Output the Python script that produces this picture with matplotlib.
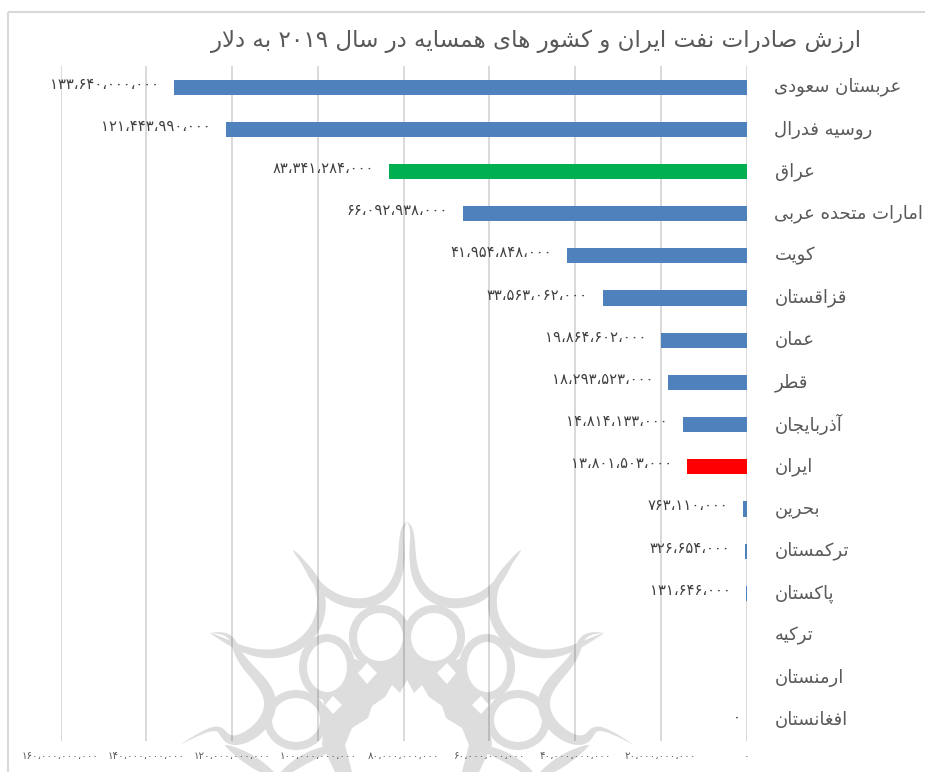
import numpy as np
import matplotlib
matplotlib.use("Agg")
import matplotlib.pyplot as plt
from matplotlib.patches import Polygon, Rectangle, Ellipse

W, H = 925, 772

title = "ارزش صادرات نفت ایران و کشور های همسایه در سال ۲۰۱۹ به دلار"
countries = ["عربستان سعودی", "روسیه فدرال", "عراق", "امارات متحده عربی", "کویت", "قزاقستان",
             "عمان", "قطر", "آذربایجان", "ایران", "بحرین", "ترکمستان", "پاکستان", "ترکیه",
             "ارمنستان", "افغانستان"]
values = [133640000000, 121443990000, 83341284000, 66092938000, 41954848000, 33563062000,
          19864602000, 18293523000, 14814133000, 13801503000, 763110000, 326654000,
          131646000, 0, 0, 0]
has_label = [True] * 13 + [False, False, True]
colors = ["#4F81BD", "#4F81BD", "#00B050"] + ["#4F81BD"] * 6 + ["#FF0000"] + ["#4F81BD"] * 6
ticks = [0, 20e9, 40e9, 60e9, 80e9, 100e9, 120e9, 140e9, 160e9]

# Arabic shaping: matplotlib has no text shaper, so letters map to presentation forms
F = {'ا': (0xFE8D, 0xFE8E), 'آ': (0xFE81, 0xFE82), 'د': (0xFEA9, 0xFEAA), 'ذ': (0xFEAB, 0xFEAC),
     'ر': (0xFEAD, 0xFEAE), 'ز': (0xFEAF, 0xFEB0), 'و': (0xFEED, 0xFEEE),
     'ب': (0xFE8F, 0xFE90, 0xFE91, 0xFE92), 'پ': (0xFB56, 0xFB57, 0xFB58, 0xFB59),
     'ت': (0xFE95, 0xFE96, 0xFE97, 0xFE98), 'ج': (0xFE9D, 0xFE9E, 0xFE9F, 0xFEA0),
     'ح': (0xFEA1, 0xFEA2, 0xFEA3, 0xFEA4), 'س': (0xFEB1, 0xFEB2, 0xFEB3, 0xFEB4),
     'ش': (0xFEB5, 0xFEB6, 0xFEB7, 0xFEB8), 'ص': (0xFEB9, 0xFEBA, 0xFEBB, 0xFEBC),
     'ط': (0xFEC1, 0xFEC2, 0xFEC3, 0xFEC4), 'ع': (0xFEC9, 0xFECA, 0xFECB, 0xFECC),
     'غ': (0xFECD, 0xFECE, 0xFECF, 0xFED0), 'ف': (0xFED1, 0xFED2, 0xFED3, 0xFED4),
     'ق': (0xFED5, 0xFED6, 0xFED7, 0xFED8), 'ک': (0xFB8E, 0xFB8F, 0xFB90, 0xFB91),
     'ل': (0xFEDD, 0xFEDE, 0xFEDF, 0xFEE0), 'م': (0xFEE1, 0xFEE2, 0xFEE3, 0xFEE4),
     'ن': (0xFEE5, 0xFEE6, 0xFEE7, 0xFEE8), 'ه': (0xFEE9, 0xFEEA, 0xFEEB, 0xFEEC),
     'ی': (0xFBFC, 0xFBFD, 0xFBFE, 0xFBFF)}


def shape_word(w):
    out = []
    i = 0
    n = len(w)
    while i < n:
        c = w[i]
        if c not in F:
            out.append(c)
            i += 1
            continue
        prev = w[i - 1] if i else ''
        join_prev = prev in F and len(F[prev]) == 4
        if c == 'ل' and i + 1 < n and w[i + 1] == 'ا':
            out.append(chr(0xFEFC if join_prev else 0xFEFB))
            i += 2
            continue
        nxt = w[i + 1] if i + 1 < n else ''
        join_next = nxt in F and len(F[c]) == 4
        f = F[c]
        k = (3 if join_next else 1) if join_prev else (2 if join_next else 0)
        out.append(chr(f[k]))
        i += 1
    return ''.join(out)


def shape(s):
    vis = []
    for w in reversed(s.split(' ')):
        vis.append(shape_word(w)[::-1] if any(ch in F for ch in w) else w)
    return ' '.join(vis)


def fa_num(v):
    s = f"{int(v):,}".replace(',', '،')
    return s.translate(str.maketrans('0123456789', '۰۱۲۳۴۵۶۷۸۹'))


plt.rcParams['font.family'] = ['DejaVu Sans']
fig = plt.figure(figsize=(W / 100, H / 100), dpi=100, facecolor='white')

# background watermark, in pixel coordinates of the image
bg = fig.add_axes([0, 0, 1, 1], zorder=0)
bg.set_xlim(0, W)
bg.set_ylim(H, 0)
bg.axis('off')
WM = '#dddddd'
cx = 407


def smooth(pts, n=80):
    pts = np.array(pts, float)
    d = np.r_[0, np.cumsum(np.hypot(*np.diff(pts, axis=0).T))]
    t = d / d[-1]
    u = np.linspace(0, 1, n)
    c = np.polyfit(t, pts, min(len(pts) - 1, 6))
    return np.polyval(c[:, 0], u), np.polyval(c[:, 1], u)


def taper(pts, w=9.0):
    for sign in [1, -1]:
        p = [(cx + sign * (a - cx), b) for a, b in pts]
        x, y = smooth(p)
        dx, dy = np.gradient(x), np.gradient(y)
        L = np.hypot(dx, dy)
        u = np.linspace(0, 1, len(x))
        wid = w * np.sin(np.pi * u) ** 0.7 / 2
        nx, ny = -dy / L * wid, dx / L * wid
        poly = np.r_[np.c_[x + nx, y + ny], np.c_[x - nx, y - ny][::-1]]
        bg.add_patch(Polygon(poly, closed=True, fc=WM, ec='none', zorder=3))


def mirrored_poly(pts, fc, zorder):
    for sign in [1, -1]:
        bg.add_patch(Polygon([(cx + sign * (a - cx), b) for a, b in pts], closed=True,
                             fc=fc, ec='none', zorder=zorder))


def ring(c, rx, ry):
    for sign in [1, -1]:
        bg.add_patch(Ellipse((cx + sign * (c[0] - cx), c[1]), 2 * rx, 2 * ry, fc='white', ec=WM,
                             lw=5.8, zorder=2))


mirrored_poly([(407, 650), (370, 665), (345, 655), (322, 690), (325, 715), (322, 745), (335, 772),
               (352, 772), (345, 745), (352, 728), (368, 718), (372, 706), (385, 697),
               (392, 685), (400, 693), (407, 680)], WM, 1)
ring((380, 637), 27, 28)
ring((327, 667), 24, 29)
ring((296, 720), 28, 26)
mirrored_poly([(367, 663), (377, 673), (367, 684), (358, 673)], 'white', 2.5)
mirrored_poly([(333, 696), (342, 705), (333, 714), (325, 705)], 'white', 2.5)
taper([(407, 522), (400, 567), (380, 598), (353, 603), (317, 583), (293, 550)], 10)
taper([(293, 550), (317, 583), (320, 615), (305, 640), (283, 652), (253, 652), (210, 633)], 10)
taper([(210, 633), (237, 650), (257, 677), (270, 703), (263, 723), (237, 740), (180, 745)], 12)
taper([(225, 745), (250, 760), (280, 780)], 11)
taper([(345, 745), (300, 762), (272, 785)], 10)

# chart frame
bg.add_patch(Rectangle((8, 12), W + 20, H + 20, fc='none', ec='#d9d9d9', lw=1.5, zorder=4))

# chart
L, R, T, B = 60.5, 746.5, 66, 741
ax = fig.add_axes([L / W, 1 - B / H, (R - L) / W, (B - T) / H], zorder=1)
ax.patch.set_alpha(0)
y = np.arange(len(countries))
ax.barh(y, values, height=0.36, color=colors, zorder=3)
ax.set_xlim(160e9, 0)
ax.set_ylim(len(countries) - 0.5, -0.5)
ax.set_xticks(ticks)
ax.set_xticklabels([fa_num(t) for t in ticks], fontsize=7.4, color='#595959')
ax.set_yticks(y)
ax.set_yticklabels([])
ax.tick_params(axis='both', length=0, pad=7)
ax.xaxis.grid(True, color='black', alpha=0.15, lw=1.4, zorder=1)
ax.set_axisbelow(True)
for s in ax.spines.values():
    s.set_visible(False)

for i, (c, v, lab) in enumerate(zip(countries, values, has_label)):
    ax.annotate(shape(c), xy=(0, i), xytext=(28, 0), textcoords='offset pixels',
                ha='left', va='center', fontsize=13, color='#595959', annotation_clip=False)
    if lab:
        ax.annotate(fa_num(v), xy=(v, i), xytext=(-15 if v else -6, 3), textcoords='offset pixels',
                    ha='right', va='center', fontsize=10.6, color='#404040')

fig.text(536 / W, 1 - 41 / H, shape(title), ha='center', va='center', fontsize=16.6, color='#595959')

fig.savefig('out.png', dpi=100)
